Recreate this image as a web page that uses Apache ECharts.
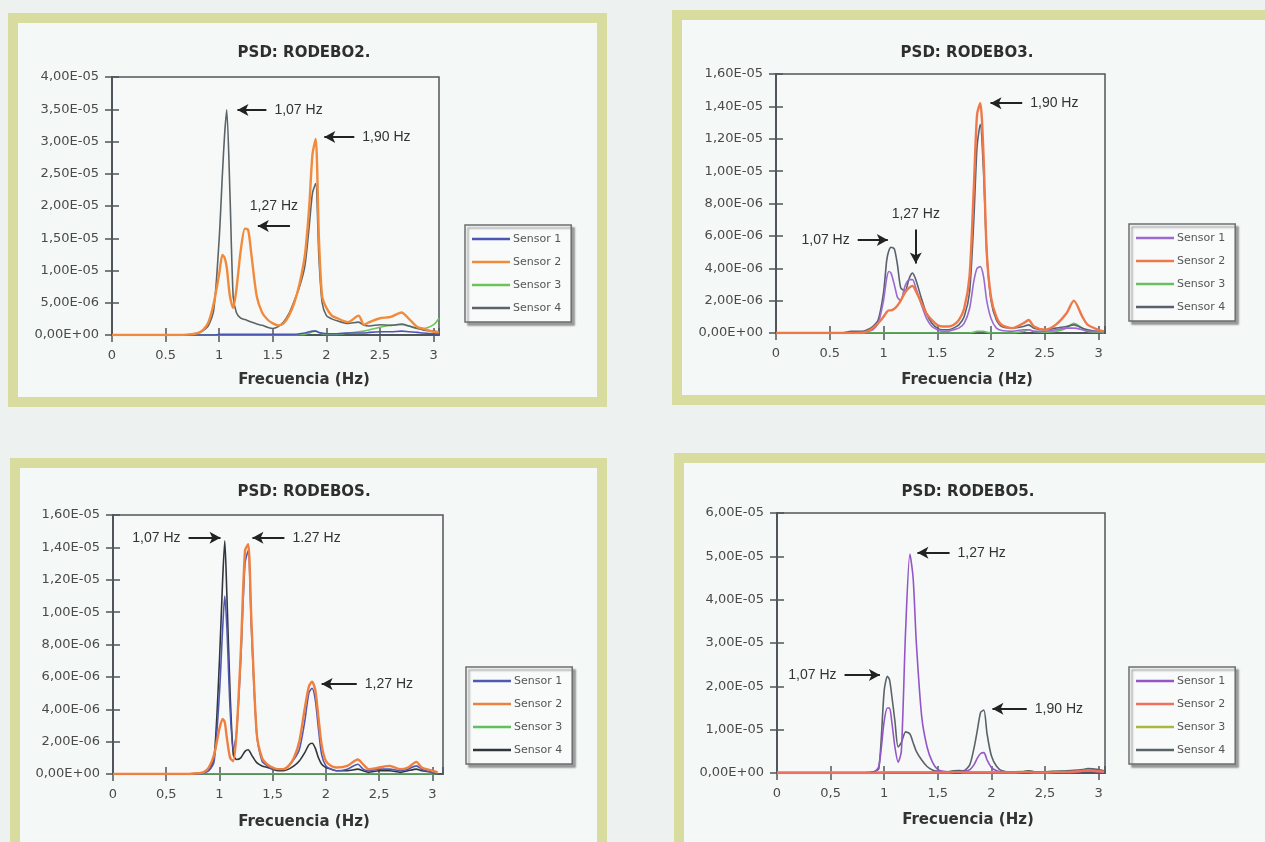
<!DOCTYPE html>
<html>
<head>
<meta charset="utf-8">
<script src="https://cdn.jsdelivr.net/npm/echarts@6/dist/echarts.min.js"></script>
<style>
  html, body { margin: 0; padding: 0; background: #edf2f1; }
  #chart { width: 1265px; height: 842px; }
</style>
</head>
<body>
<div id="chart"></div>
<script>
// Frequency axis (Hz), shared by all four panels
const FREQ = [0,0.2,0.4,0.6,0.7,0.8,0.85,0.9,0.95,1.0, 1.03,1.05,1.07,1.1,1.13,1.16,1.2,1.24,1.27,1.3, 1.35,1.4,1.45,1.5,1.55,1.6,1.65,1.7,1.75,1.8, 1.84,1.87,1.9,1.93,1.96,2.0,2.05,2.1,2.2,2.3, 2.35,2.4,2.5,2.6,2.7,2.77,2.85,2.9,3.0,3.05];

const SENSORS = ['Sensor 1','Sensor 2','Sensor 3','Sensor 4'];
const TITLES = ['PSD: RODEBO2.','PSD: RODEBO3.','PSD: RODEBOS.','PSD: RODEBO5.'];
const X_TITLE = 'Frecuencia (Hz)';

// PSD values, in units of 1E-06
// Panel 1: RODEBO2
const P1_S1 = [0,0,0,0,0,0,0,0,0,0.1, 0.1,0.1,0.1,0.1,0.1,0.1,0.1,0.1,0.1,0.1, 0.1,0.1,0.1,0.1,0.1,0.1,0.1,0.1,0.2,0.3, 0.5,0.6,0.6,0.4,0.3,0.2,0.2,0.2,0.3,0.3, 0.3,0.4,0.5,0.5,0.6,0.5,0.4,0.3,0.2,0.2];
const P1_S2 = [0,0,0,0,0.05,0.3,0.8,2,5,9.5, 12.4,12,10.5,6,4.2,7,13,16.5,16.3,12.5, 6,3.5,2.4,1.8,1.5,1.8,3,5,8,12.5, 20,28,30.4,15,6,4.2,3,2.6,2,3, 1.6,2,2.6,2.8,3.5,2.5,1.2,1.0,0.5,0.4];
const P1_S3 = [0,0,0,0,0,0,0,0,0,0, 0,0,0,0,0,0,0,0,0,0, 0,0,0,0,0,0,0,0,0.05,0.1, 0.3,0.5,0.6,0.4,0.2,0.1,0.1,0.1,0.3,0.5, 0.6,0.8,1.2,1.5,1.6,1.4,1.0,1.0,1.6,2.6];
const P1_S4 = [0,0,0,0,0.05,0.3,0.7,1.5,4,15, 25,31,34.9,22,6,3.5,2.6,2.4,2.2,2.0, 1.7,1.5,1.2,1.0,1.3,2,3.3,5.3,7.5,10.8, 17,22,23.5,12,5,3,2.5,2.2,1.8,2.0, 1.5,1.4,1.6,1.5,1.7,1.4,1.0,0.8,0.6,0.5];
// Panel 2: RODEBO3
const P2_S1 = [0,0,0,0,0,0.05,0.1,0.2,0.6,2.0, 3.4,3.8,3.7,3.0,2.2,2.0,2.9,3.3,3.3,2.8, 1.8,0.9,0.4,0.2,0.1,0.1,0.2,0.3,0.6,1.5, 3.2,4.0,4.1,3.5,2.0,0.9,0.3,0.15,0.1,0.2, 0.2,0.1,0.1,0.2,0.3,0.3,0.2,0.1,0.1,0.1];
const P2_S2 = [0,0,0,0,0,0,0.1,0.3,0.6,1.0, 1.3,1.4,1.4,1.5,1.7,2.0,2.5,2.8,2.9,2.6, 1.9,1.2,0.8,0.5,0.4,0.4,0.5,0.8,1.5,3.5, 9,13.5,14.2,11,5,2.2,1.0,0.5,0.3,0.6, 0.8,0.4,0.2,0.5,1.2,2.0,1.0,0.5,0.2,0.1];
const P2_S3 = [0,0,0,0,0,0,0,0,0,0, 0,0,0,0,0,0,0,0,0,0, 0,0,0,0,0,0,0,0,0,0, 0.05,0.1,0.1,0.1,0.05,0,0,0,0,0.1, 0.2,0.1,0.05,0.1,0.3,0.6,0.3,0.1,0.05,0];
const P2_S4 = [0,0,0,0,0.1,0.1,0.2,0.4,0.8,2.5, 4.5,5.1,5.3,5.2,4.2,2.8,2.6,3.4,3.7,3.3, 2.2,1.2,0.6,0.3,0.2,0.2,0.3,0.5,1.0,2.5, 7,11.5,12.9,10,5,2,0.8,0.4,0.3,0.4, 0.5,0.3,0.2,0.3,0.4,0.5,0.3,0.2,0.1,0.1];
// Panel 3: RODEBOS
const P3_S1 = [0,0,0,0,0,0,0.05,0.2,0.8,5, 9,11,9,4,1.5,2.5,7,13,13.8,9, 2.5,0.8,0.5,0.3,0.3,0.3,0.5,0.9,1.5,3.2, 5.0,5.3,4.6,2.8,1.2,0.5,0.3,0.2,0.3,0.6, 0.3,0.2,0.3,0.3,0.2,0.3,0.5,0.3,0.1,0];
const P3_S2 = [0,0,0,0,0,0.05,0.1,0.4,1.2,2.8, 3.4,3.2,2.2,1.0,0.8,2.5,7.5,13.8,14.2,9.5, 2.5,1.0,0.6,0.4,0.3,0.3,0.5,1.0,2.0,4.0, 5.4,5.7,5.2,3.5,1.8,0.8,0.5,0.4,0.5,0.9, 0.6,0.3,0.4,0.5,0.3,0.4,0.75,0.4,0.2,0.1];
const P3_S3 = [0,0,0,0,0,0,0,0,0,0, 0,0,0,0,0,0,0,0,0,0, 0,0,0,0,0,0,0,0,0,0, 0,0,0,0,0,0,0,0,0,0, 0,0,0,0,0,0,0,0,0,0];
const P3_S4 = [0,0,0,0,0,0.05,0.1,0.3,1.0,7, 12,14.4,11,5,1.2,0.9,1.0,1.4,1.5,1.2, 0.7,0.5,0.4,0.3,0.2,0.2,0.3,0.5,0.8,1.3, 1.8,1.9,1.6,1.0,0.6,0.4,0.3,0.2,0.2,0.3, 0.2,0.1,0.2,0.2,0.1,0.2,0.3,0.2,0.1,0];
// Panel 4: RODEBO5
const P4_S1 = [0,0,0,0,0,0,0,0.1,1.5,12, 15,15,12,6,2.5,5,33,50.5,45,30, 13,6,2.5,0.8,0.4,0.3,0.3,0.3,0.4,0.8, 2,3.5,4.5,4.7,3,1.3,0.5,0.2,0.1,0.2, 0.2,0.1,0.1,0.2,0.2,0.3,0.4,0.5,0.3,0.2];
const P4_S2 = [0,0,0,0,0,0,0,0,0,0.1, 0.1,0.1,0.1,0.1,0.1,0.1,0.1,0.1,0.1,0.1, 0.1,0.1,0.1,0.1,0.1,0.1,0.2,0.2,0.1,0.1, 0.1,0.1,0.1,0.1,0.1,0.1,0.1,0.1,0.1,0.2, 0.2,0.1,0.1,0.2,0.2,0.3,0.5,0.6,0.4,0.3];
const P4_S3 = [0.2,0.2,0.2,0.2,0.2,0.2,0.2,0.2,0.2,0.2, 0.2,0.2,0.2,0.2,0.2,0.2,0.2,0.2,0.2,0.2, 0.2,0.2,0.3,0.3,0.3,0.3,0.5,0.6,0.4,0.3, 0.3,0.3,0.3,0.3,0.3,0.3,0.3,0.3,0.3,0.4, 0.5,0.3,0.3,0.4,0.4,0.5,0.7,0.9,0.6,0.5];
const P4_S4 = [0,0,0,0,0,0,0.1,0.3,1,19, 22.3,21.5,18,12,6,7,9.5,9.0,7,5, 3,1.5,0.7,0.4,0.3,0.3,0.5,0.5,0.6,2, 6,10,14,14.5,9,4,1.5,0.5,0.2,0.3, 0.5,0.3,0.3,0.4,0.5,0.6,0.8,1.0,0.8,0.5];

// Y axis ranges (1E-06 units): [max, interval]
const Y_RANGES = [[40,5],[16,2],[16,2],[60,10]];
const X_MAX = [3.05,3.06,3.1,3.06];
const X_DECIMAL = ['.', '.', ',', ','];

// Annotations: [text, tailX, tailY, headX, headY, labelPosition]
const P1_NOTES = [['1,07 Hz',1.44,34.9,1.17,34.9,'start'],['1,90 Hz',2.26,30.7,1.98,30.7,'start'],['1,27 Hz',1.66,16.9,1.36,16.9,'insideMiddleTop']];
const P2_NOTES = [['1,90 Hz',2.29,14.2,1.995,14.2,'start'],['1,27 Hz',1.30,6.4,1.30,4.3,'start'],['1,07 Hz',0.76,5.75,1.04,5.75,'start']];
const P3_NOTES = [['1,07 Hz',0.71,14.6,1.01,14.6,'start'],['1.27 Hz',1.61,14.6,1.31,14.6,'start'],['1,27 Hz',2.29,5.56,1.96,5.56,'start']];
const P4_NOTES = [['1,27 Hz',1.61,50.8,1.31,50.8,'start'],['1,07 Hz',0.63,22.6,0.96,22.6,'start'],['1,90 Hz',2.33,14.8,2.01,14.8,'start']];

const SERIES = [[P1_S1,P1_S2,P1_S3,P1_S4],[P2_S1,P2_S2,P2_S3,P2_S4],[P3_S1,P3_S2,P3_S3,P3_S4],[P4_S1,P4_S2,P4_S3,P4_S4]];
const NOTES = [P1_NOTES,P2_NOTES,P3_NOTES,P4_NOTES];

// ---- layout / style ----
const GRIDS = [
  {left:112, top:77, width:327, height:258},
  {left:776, top:74, width:329, height:259},
  {left:113, top:515, width:330, height:259},
  {left:777, top:513, width:328, height:260}
];
const COLORS = [
  ['#4b55b5','#f28a3c','#6ec25a','#5c6468'],
  ['#9a6ad0','#f07848','#66c060','#5a6070'],
  ['#5158b2','#f08040','#60c060','#30363c'],
  ['#9455c8','#f07060','#a8b840','#5a6468']
];
const LEGEND_POS = [[465,225],[1129,224],[466,667],[1129,667]];
const TITLE_POS = [[304,53,380],[967,53,380],[304,492,822],[968,492,820]];
const FRAMES = [[13,18,589,384],[677,15,610,385],[15,463,587,400],[679,458,610,400]];

const AXIS_COLOR = '#50555a';
const FONT = 'DejaVu Sans';

function sci(v) {
  const x = v * 1e-6;
  const parts = x.toExponential(2).split('e');
  const e = parseInt(parts[1], 10);
  return parts[0].replace('.', ',') + 'E' + (e < 0 ? '-' : '+') + String(Math.abs(e)).padStart(2, '0');
}

const option = {
  backgroundColor: '#edf2f1',
  animation: false,
  grid: [], xAxis: [], yAxis: [], series: [], legend: [],
  graphic: { elements: [] }
};

for (let p = 0; p < 4; p++) {
  const [fx, fy, fw, fh] = FRAMES[p];
  option.graphic.elements.push({
    type: 'rect', z: -100, silent: true,
    shape: {x: fx, y: fy, width: fw, height: fh},
    style: {fill: '#f4f8f6', stroke: '#d8dd9f', lineWidth: 10}
  });
  const [tx, ty, xty] = TITLE_POS[p];
  option.graphic.elements.push({
    type: 'text', x: tx, y: ty, z: 10, silent: true,
    style: {text: TITLES[p], font: 'bold 15px ' + FONT, fill: '#2e2e2e', align: 'center', verticalAlign: 'middle'}
  });
  option.graphic.elements.push({
    type: 'text', x: TITLE_POS[p][0], y: xty, z: 10, silent: true,
    style: {text: X_TITLE, font: 'bold 15px ' + FONT, fill: '#333', align: 'center', verticalAlign: 'middle'}
  });

  option.grid.push(Object.assign({show: true, borderColor: AXIS_COLOR, borderWidth: 1.5, backgroundColor: 'rgba(255,255,255,0.2)'}, GRIDS[p]));

  const [ymax, yint] = Y_RANGES[p];
  const dec = X_DECIMAL[p];
  const xLabelFmt = v => {
    if (Math.abs(v * 2 - Math.round(v * 2)) > 1e-6) return '';
    return String(v).replace('.', dec);
  };
  option.xAxis.push({
    type: 'value', gridIndex: p, min: 0, max: X_MAX[p], interval: 0.5, position: 'bottom',
    axisLine: {show: true, onZero: false, lineStyle: {color: AXIS_COLOR, width: 2}},
    axisTick: {show: true, length: 7, lineStyle: {color: AXIS_COLOR, width: 1.5}},
    axisLabel: {margin: 14, fontSize: 13, fontFamily: FONT, color: '#4a4a4a', formatter: xLabelFmt, showMaxLabel: false},
    splitLine: {show: false}
  });
  option.xAxis.push({
    type: 'value', gridIndex: p, min: 0, max: X_MAX[p], interval: 0.5, position: 'bottom',
    axisLine: {show: false, onZero: false},
    axisTick: {show: true, inside: true, length: 7, lineStyle: {color: AXIS_COLOR, width: 1.5}},
    axisLabel: {show: false}, splitLine: {show: false}
  });
  option.yAxis.push({
    type: 'value', gridIndex: p, min: 0, max: ymax, interval: yint, position: 'left',
    axisLine: {show: true, onZero: false, lineStyle: {color: AXIS_COLOR, width: 2}},
    axisTick: {show: true, length: 7, lineStyle: {color: AXIS_COLOR, width: 1.5}},
    axisLabel: {margin: 13, fontSize: 13, fontFamily: FONT, color: '#4a4a4a', formatter: sci},
    splitLine: {show: false}
  });
  option.yAxis.push({
    type: 'value', gridIndex: p, min: 0, max: ymax, interval: yint, position: 'left',
    axisLine: {show: false, onZero: false},
    axisTick: {show: true, inside: true, length: 7, lineStyle: {color: AXIS_COLOR, width: 1.5}},
    axisLabel: {show: false}, splitLine: {show: false}
  });

  const order = [2, 3, 0, 1];
  order.forEach((k, idx) => {
    option.series.push({
      type: 'line', name: SENSORS[k] + '#' + p,
      xAxisIndex: 2 * p, yAxisIndex: 2 * p,
      data: FREQ.map((f, i) => [f, SERIES[p][k][i]]),
      symbol: 'none', showSymbol: false, smooth: 0.25,
      lineStyle: {color: COLORS[p][k], width: k === 1 ? 2.4 : 1.6},
      itemStyle: {color: COLORS[p][k]},
      z: 2 + idx, silent: true
    });
  });

  option.series.push({
    type: 'line', name: 'notes' + p, xAxisIndex: 2 * p, yAxisIndex: 2 * p, data: [], z: 10,
    markLine: {
      silent: true, animation: false,
      symbol: ['none', 'arrow'], symbolSize: [9, 11],
      lineStyle: {color: '#222', width: 2, type: 'solid'},
      label: {show: true, color: '#333', fontSize: 14, fontFamily: 'Liberation Sans'},
      data: NOTES[p].map(n => [
        {coord: [n[1], n[2]], label: {show: true, formatter: n[0], position: n[5], distance: n[5] === 'insideMiddleTop' ? 13 : 8}},
        {coord: [n[3], n[4]]}
      ])
    }
  });

  const [lx, ly] = LEGEND_POS[p];
  option.legend.push({
    data: SENSORS.map(s => ({name: s + '#' + p, icon: 'rect'})),
    formatter: name => name.split('#')[0],
    orient: 'vertical', left: lx, top: ly,
    itemWidth: 38, itemHeight: 2.5, itemGap: 9,
    padding: [7, 10, 7, 7],
    backgroundColor: '#f9fbfa', borderColor: '#6a6e70', borderWidth: 1.5,
    shadowColor: 'rgba(0,0,0,0.35)', shadowOffsetX: 3, shadowOffsetY: 3, shadowBlur: 2,
    selectedMode: false,
    textStyle: {fontSize: 11, fontFamily: FONT, color: '#555', lineHeight: 14, padding: [0, 0, 0, -2]}
  });
}

const chart = echarts.init(document.getElementById('chart'), null, {renderer: 'canvas'});
chart.setOption(option);
</script>
</body>
</html>
